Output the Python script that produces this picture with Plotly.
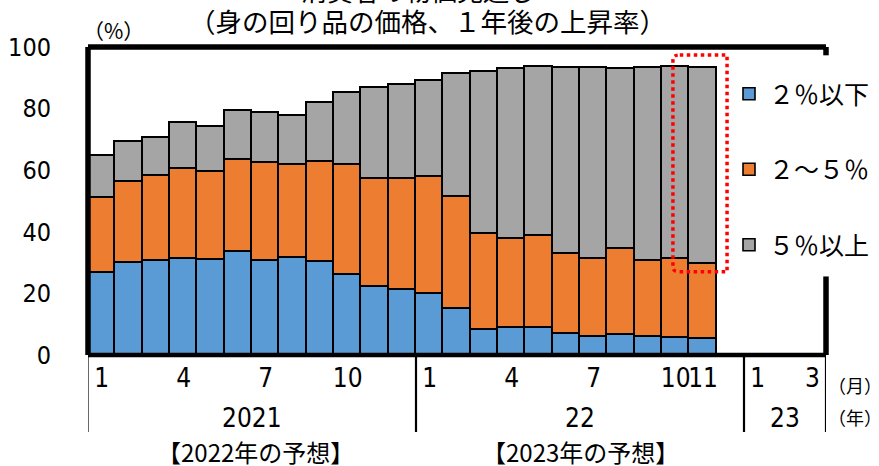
import plotly.graph_objects as go

# ---- data (Jan 2021 - Nov 2022, share of respondents, %) ----
months_all = ["2021-01","2021-02","2021-03","2021-04","2021-05","2021-06","2021-07","2021-08",
              "2021-09","2021-10","2021-11","2021-12","2022-01","2022-02","2022-03","2022-04",
              "2022-05","2022-06","2022-07","2022-08","2022-09","2022-10","2022-11",
              "2022-12","2023-01","2023-02","2023-03"]
below2 = [26.5, 30.0, 30.5, 31.2, 30.8, 33.5, 30.5, 31.4, 30.1, 26.1, 22.1, 21.0,
          19.8, 14.9, 8.0, 8.9, 8.8, 6.7, 5.7, 6.6, 5.7, 5.4, 5.3]
from2to5 = [24.4, 26.3, 27.7, 29.2, 28.6, 29.8, 31.7, 30.3, 32.6, 35.5, 35.0, 36.0,
            38.0, 36.5, 31.2, 28.7, 29.8, 26.1, 25.4, 27.8, 24.9, 25.7, 24.1]
above5 = [13.7, 12.7, 12.4, 14.9, 14.7, 15.9, 16.3, 16.0, 19.1, 23.6, 29.7, 30.7,
          31.2, 39.7, 52.8, 55.3, 55.0, 60.5, 62.0, 58.6, 62.5, 62.3, 63.8]
series_names = ["２％以下", "２～５％", "５％以上"]
series_colors = ["#5B9BD5", "#ED7D31", "#A5A5A5"]

tick_months = ["1", "4", "7", "10", "1", "4", "7", "10", "11", "1", "3"]
tick_idx = [0, 3, 6, 9, 12, 15, 18, 21, 22, 24, 26]
year_labels = ["2021", "22", "23"]
year_spans = [(0, 11), (12, 23), (24, 26)]
y_ticks = [0, 20, 40, 60, 80, 100]

NARROW = "Liberation Sans Narrow, Arial Narrow, DejaVu Sans Condensed, sans-serif"
JP = "Noto Sans CJK JP, sans-serif"

x = list(range(len(below2)))
n_all = len(months_all)

fig = go.Figure()
for i, (vals, name, col) in enumerate(zip([below2, from2to5, above5], series_names, series_colors)):
    fig.add_trace(go.Bar(x=x, y=vals, name=name, legendgroup=f"g{i}",
                         marker=dict(color=col, line=dict(color="black", width=1.6))))

L, R, T, B = 88, 53, 47, 111
W, H = 879, 466
pw = W - L - R
ph = H - T - B
Y_MAX = 100.0

def px_to_paper_y(Y):
    return (H - B - Y) / ph

def px_to_paper_x(X):
    return (X - L) / pw

shapes = []
# frame (paper-referenced so the thick lines are not clipped by the plot area)
frame = [((0, 1), (1, 1), 5.5),                      # top
         ((0, 0), (0, 1), 5.5),                      # left
         ((0, 1), (0, 0), 4.5),                      # bottom
         ((1, 1), (97.3 / Y_MAX, 1), 5.5),           # right, above legend
         ((1, 1), (0, 25.5 / Y_MAX), 5.5)]           # right, below legend
for (xa, xb), (ya, yb), w in frame:
    shapes.append(dict(type="line", xref="paper", yref="paper", x0=xa, x1=xb, y0=ya, y1=yb,
                       line=dict(color="black", width=w)))
# separators below axis
sep_bottom = px_to_paper_y(432)
for xs, w in [(-0.5, 1.2), (11.5, 2.2), (23.5, 2.2), (n_all - 0.5, 2.2)]:
    shapes.append(dict(type="line", xref="x", yref="paper", x0=xs, x1=xs, y0=0, y1=sep_bottom,
                       line=dict(color="black", width=w)))
# red dotted highlight box around latest bar
x0b, x1b, y0b, y1b = 20.9, 22.88, 27.0, 97.4
r = 0.25
ry = 1.5
path = (f"M {x0b+r},{y1b} L {x1b},{y1b} L {x1b},{y0b} L {x0b+r},{y0b} "
        f"Q {x0b},{y0b} {x0b},{y0b+ry} L {x0b},{y1b-ry} Q {x0b},{y1b} {x0b+r},{y1b} Z")
shapes.append(dict(type="path", xref="x", yref="y", path=path,
                   line=dict(color="#FF0000", width=3.5, dash="dot")))

annotations = []
# year labels
for lab, (a, b) in zip(year_labels, year_spans):
    annotations.append(dict(x=(a + b) / 2, y=px_to_paper_y(418), xref="x", yref="paper",
                            text=lab, showarrow=False, xanchor="center", yanchor="middle",
                            font=dict(family=NARROW, size=26, color="black")))
annotations.append(dict(x=px_to_paper_x(826), y=px_to_paper_y(385), xref="paper", yref="paper",
                        text="（月）", showarrow=False, xanchor="left", yanchor="middle",
                        font=dict(family=JP, size=18, color="black")))
annotations.append(dict(x=px_to_paper_x(826), y=px_to_paper_y(417), xref="paper", yref="paper",
                        text="（年）", showarrow=False, xanchor="left", yanchor="middle",
                        font=dict(family=JP, size=18, color="black")))
annotations.append(dict(x=px_to_paper_x(255), y=px_to_paper_y(451), xref="paper", yref="paper",
                        text="【2022年の予想】", showarrow=False, xanchor="center", yanchor="middle",
                        font=dict(family=JP, size=24, color="black")))
annotations.append(dict(x=px_to_paper_x(580), y=px_to_paper_y(451), xref="paper", yref="paper",
                        text="【2023年の予想】", showarrow=False, xanchor="center", yanchor="middle",
                        font=dict(family=JP, size=24, color="black")))
annotations.append(dict(x=px_to_paper_x(113), y=px_to_paper_y(30), xref="paper", yref="paper",
                        text="（%）", showarrow=False, xanchor="center", yanchor="middle",
                        font=dict(family=JP, size=21, color="black")))
annotations.append(dict(x=px_to_paper_x(427), y=px_to_paper_y(21), xref="paper", yref="paper",
                        text="（身の回り品の価格、１年後の上昇率）", showarrow=False,
                        xanchor="center", yanchor="middle",
                        font=dict(family=JP, size=26.5, color="black")))
annotations.append(dict(x=px_to_paper_x(418), y=px_to_paper_y(-11), xref="paper", yref="paper",
                        text="消費者の物価見通し", showarrow=False,
                        xanchor="center", yanchor="middle",
                        font=dict(family=JP, size=26, color="black")))

fig.update_layout(
    width=W, height=H,
    margin=dict(l=L, r=R, t=T, b=B, autoexpand=False),
    paper_bgcolor="white", plot_bgcolor="white",
    barmode="stack", bargap=0,
    showlegend=True,
    legend=dict(x=px_to_paper_x(729), y=px_to_paper_y(71), xanchor="left", yanchor="top",
                traceorder="grouped", tracegroupgap=40, bgcolor="white",
                font=dict(family=JP, size=25, color="black"), itemwidth=30),
    xaxis=dict(range=[-0.5, n_all - 0.5], tickmode="array", tickvals=tick_idx, ticktext=tick_months,
               tickangle=0,
               showgrid=False, zeroline=False, showline=False, ticks="", ticklabelstandoff=5,
               tickfont=dict(family=NARROW, size=26, color="black")),
    yaxis=dict(range=[0, Y_MAX], tickmode="array", tickvals=y_ticks,
               showgrid=False, zeroline=False, showline=False, ticks="", ticklabelstandoff=36,
               tickfont=dict(family=NARROW, size=25, color="black")),
    shapes=shapes, annotations=annotations,
)

fig.write_html("out.html", config={"displayModeBar": False},
               post_script="document.body.style.margin='0';document.body.style.padding='0';")
